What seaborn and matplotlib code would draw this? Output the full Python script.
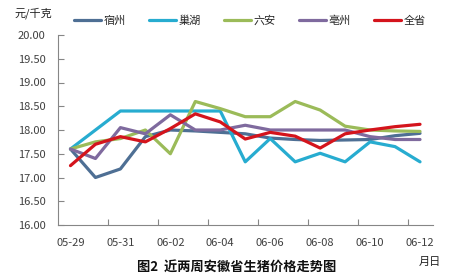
import matplotlib
matplotlib.use("Agg")
import matplotlib.pyplot as plt
import seaborn as sns
import pandas as pd
import numpy as np

dates = ["05-29", "05-30", "05-31", "06-01", "06-02", "06-03", "06-04", "06-05",
         "06-06", "06-07", "06-08", "06-09", "06-10", "06-11", "06-12"]
suzhou = [17.60, 17.00, 17.18, 17.86, 18.00, 17.98, 17.95, 17.92, 17.83, 17.80, 17.78, 17.79, 17.80, 17.88, 17.93]
chaohu = [17.60, 18.00, 18.40, 18.40, 18.40, 18.40, 18.40, 17.33, 17.82, 17.33, 17.51, 17.33, 17.75, 17.65, 17.33]
luan = [17.60, 17.75, 17.82, 18.00, 17.50, 18.60, 18.45, 18.28, 18.28, 18.60, 18.42, 18.08, 18.00, 17.98, 17.97]
bozhou = [17.60, 17.40, 18.05, 17.92, 18.32, 18.00, 18.00, 18.10, 18.00, 18.00, 18.00, 18.00, 17.86, 17.80, 17.80]
quansheng = [17.25, 17.70, 17.86, 17.75, 18.03, 18.34, 18.17, 17.81, 17.95, 17.87, 17.62, 17.92, 18.00, 18.07, 18.12]
series_names = ["宿州", "巢湖", "六安", "亳州", "全省"]
colors = ["#4E6F94", "#27ACD0", "#9BBB59", "#7F6A9E", "#D4141C"]

rows = []
for name, vals in zip(series_names, [suzhou, chaohu, luan, bozhou, quansheng]):
    for i, v in enumerate(vals):
        rows.append({"idx": i, "date": dates[i], "city": name, "price": v})
df = pd.DataFrame(rows)

sns.set_theme(style="white")
plt.rcParams["font.family"] = ["Noto Sans CJK SC", "DejaVu Sans"]

fig = plt.figure(figsize=(4.6, 2.8), dpi=100)
ax = fig.add_axes([58 / 460, 1 - 225 / 280, (432.5 - 58) / 460, (225 - 35) / 280])

sns.lineplot(data=df, x="idx", y="price", hue="city", hue_order=series_names,
             palette=colors, linewidth=2.3, ax=ax, legend=False)

ax.set_xlim(-0.5, len(dates) - 0.5)
ax.set_ylim(16, 20)
ax.set_yticks(np.arange(16, 20.01, 0.5))
ax.set_yticklabels([f"{v:.2f}" for v in np.arange(16, 20.01, 0.5)])
ax.set_xticks(list(range(0, len(dates), 2)))
ax.set_xticklabels(dates[::2])
ax.set_xticks([i + 0.5 for i in range(1, len(dates) - 1, 2)], minor=True)
ax.set_xlabel("")
ax.set_ylabel("")

for s in ["top", "right"]:
    ax.spines[s].set_visible(False)
for s in ["left", "bottom"]:
    ax.spines[s].set_color("#868686")
    ax.spines[s].set_linewidth(0.8)

ax.tick_params(axis="y", which="major", direction="in", length=4, width=0.8,
               color="#868686", labelsize=8, labelcolor="#404040", pad=9, left=True)
ax.tick_params(axis="x", which="major", length=0, labelsize=8,
               labelcolor="#404040", pad=9)
ax.tick_params(axis="x", which="minor", direction="in", length=4, width=0.8,
               color="#868686", bottom=True)

handles = [plt.Line2D([], [], color=c, lw=2.3) for c in colors]
fig.legend(handles, series_names, loc="center", bbox_to_anchor=(250 / 460, 1 - 21 / 280),
           ncol=5, frameon=False, fontsize=8, handlelength=2.4, handletextpad=0.25,
           columnspacing=2.1)

fig.text(15 / 460, 1 - 13 / 280, "元/千克", fontsize=8, color="#202020", ha="left", va="center")
fig.text(237 / 460, 1 - 268 / 280, "图2  近两周安徽省生猪价格走势图", fontsize=9.5,
         fontweight="bold", color="#101010", ha="center", va="center")
fig.text(430 / 460, 1 - 262 / 280, "月日", fontsize=8, color="#202020", ha="center", va="center")

fig.savefig("out.png", dpi=100)
